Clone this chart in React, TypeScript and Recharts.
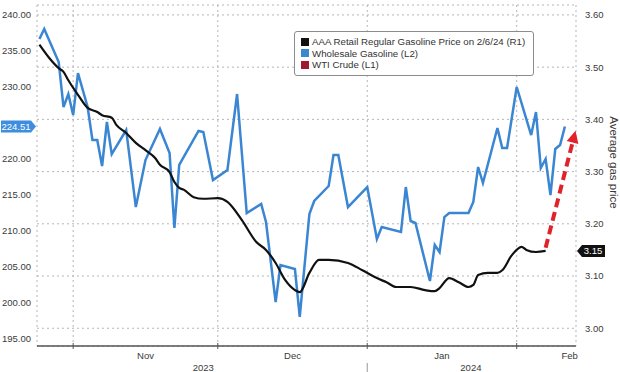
import React from "react";
import {
  LineChart,
  Line,
  XAxis,
  YAxis,
  CartesianGrid,
  Legend,
  ReferenceLine,
} from "recharts";

// x = days counted from Oct 24, 2023 (Nov 1 = 8, Dec 1 = 38, Jan 1 = 69, Feb 1 = 100)
const wholesaleDays = [
  1, 2, 5, 6, 7, 8, 9, 11, 12, 13, 14, 15, 16, 19, 21, 23, 26, 28, 29, 30, 34, 35,
  37, 40, 42, 44, 47, 48, 50, 51, 54, 55, 57, 58, 61, 62, 63, 65, 69, 71, 72, 76,
  77, 78, 79, 82, 83, 84, 85, 86, 90, 91, 92, 93, 96, 97, 98, 100, 103, 104, 105,
  106, 107, 108, 109, 110,
];
const wholesaleValues = [
  236.67, 238.06, 233.47, 227.22, 229.03, 226.11, 231.94, 227.22, 222.64, 222.64,
  219.03, 225.14, 220.69, 224.03, 213.33, 219.86, 224.17, 220.83, 210.42, 219.17,
  223.89, 223.75, 217.08, 218.47, 229.03, 212.5, 213.75, 211.25, 200.14, 205.28,
  204.72, 198.06, 212.36, 214.17, 216.25, 220.56, 220.56, 213.33, 216.11, 208.89,
  210.56, 209.86, 216.11, 211.39, 211.11, 203.06, 208.06, 207.08, 211.94, 212.5,
  212.5, 214.03, 218.89, 216.67, 224.31, 221.53, 221.53, 230.0, 223.33, 226.53,
  218.75, 220.0, 215.0, 221.39, 221.94, 224.51,
];

const retailDays = [
  1, 3, 5, 6, 7, 9, 11, 13, 14, 16, 17, 19, 21, 23, 25, 26, 28, 29, 30, 31, 33, 35,
  38, 40, 43, 46, 48, 50, 52, 54, 55, 57, 59, 61, 65, 68, 71, 73, 75, 78, 81, 83,
  84, 86, 88, 90, 91, 92, 94, 96, 97, 99, 101, 102, 104, 106,
];
const retailValues = [
  3.543, 3.518, 3.498, 3.491, 3.475, 3.447, 3.422, 3.414, 3.408, 3.403, 3.389,
  3.374, 3.355, 3.341, 3.326, 3.313, 3.299, 3.28, 3.269, 3.265, 3.251, 3.248,
  3.249, 3.242, 3.207, 3.165, 3.15, 3.125, 3.092, 3.073, 3.069, 3.106, 3.131,
  3.131, 3.125, 3.111, 3.096, 3.088, 3.079, 3.079, 3.073, 3.071, 3.077, 3.096,
  3.088, 3.079, 3.083, 3.102, 3.106, 3.106, 3.111, 3.14, 3.156, 3.15, 3.146, 3.148,
];

const monthStarts = [8, 38, 69, 100];
const monthCenters = [23, 53.5, 84.5, 111];
const monthLabels = ["Nov", "Dec", "Jan", "Feb"];
const yearCenters = [35, 69, 90.5];
const yearLabels = ["2023", "", "2024"];

// 225.00 is covered by the last-value tag, so it is not listed
const leftTicks = [195, 200, 205, 210, 215, 220, 230, 235, 240];
const rightTicks = [3.0, 3.1, 3.2, 3.3, 3.4, 3.5, 3.6];

const legendLabels = [
  "AAA Retail Regular Gasoline Price on 2/6/24 (R1)",
  "Wholesale Gasoline (L2)",
  "WTI Crude (L1)",
];

// arrow drawn after the retail line: from last retail point up toward the right axis
const arrowStart = { x: 106, y: 3.154 };
const arrowEnd = { x: 112.2, y: 3.378 };

const wholesaleData = wholesaleDays.map((d, i) => ({ day: d, value: wholesaleValues[i] }));
const retailData = retailDays.map((d, i) => ({ day: d, value: retailValues[i] }));

const BLUE = "#3b86d3";
const BLACK = "#111111";
const RED = "#a0172e";
const FONT = '"Liberation Sans", Arial, sans-serif';
const TEXT = "#3a3a3a";

const legendColors = [BLACK, BLUE, RED];

const LegendBox = () => (
  <div
    style={{
      border: "1px solid #8c8c8c",
      borderRadius: 3,
      background: "#fff",
      padding: "4px 8px 4px 6px",
      fontFamily: FONT,
      fontSize: 9.7,
      lineHeight: "11.5px",
      color: "#333",
      whiteSpace: "nowrap",
    }}
  >
    {legendLabels.map((l, i) => (
      <div key={l} style={{ display: "flex", alignItems: "center" }}>
        <span
          style={{
            display: "inline-block",
            width: 8,
            height: 8,
            background: legendColors[i],
            marginRight: 3,
          }}
        />
        {l}
      </div>
    ))}
  </div>
);

const BoundTick = (props: any) => {
  const { x, y } = props;
  return <line x1={x} x2={x} y1={y - 3} y2={y + 3} stroke="#555" strokeWidth={1} />;
};

const MonthTick = (props: any) => {
  const { x, y, index } = props;
  return (
    <text x={x} y={y + 9} textAnchor="middle" fontSize={9.5} fontFamily={FONT} fill={TEXT}>
      {monthLabels[index]}
    </text>
  );
};

const YearTick = (props: any) => {
  const { x, y, index } = props;
  if (!yearLabels[index]) {
    return <line x1={x} x2={x} y1={y + 2} y2={y + 12} stroke="#999" strokeWidth={1} />;
  }
  return (
    <text x={x} y={y + 10} textAnchor="middle" fontSize={9.5} fontFamily={FONT} fill={TEXT}>
      {yearLabels[index]}
    </text>
  );
};

const LeftTag = (props: any) => {
  const { viewBox } = props;
  const y = viewBox.y;
  const r = viewBox.x - 1;
  return (
    <g>
      <polygon
        points={`${r - 35},${y - 6} ${r - 5},${y - 6} ${r},${y} ${r - 5},${y + 6} ${r - 35},${y + 6}`}
        fill="#3d8ede"
      />
      <text x={r - 20} y={y + 3.5} textAnchor="middle" fontSize={9.5} fontFamily={FONT} fill="#fff">
        {wholesaleValues[wholesaleValues.length - 1].toFixed(2)}
      </text>
    </g>
  );
};

const RightTag = (props: any) => {
  const { viewBox } = props;
  const y = viewBox.y;
  const l = viewBox.x + viewBox.width + 1;
  return (
    <g>
      <polygon
        points={`${l},${y} ${l + 5},${y - 6} ${l + 28},${y - 6} ${l + 28},${y + 6} ${l + 5},${y + 6}`}
        fill="#111"
      />
      <text x={l + 16} y={y + 3.5} textAnchor="middle" fontSize={9.5} fontFamily={FONT} fill="#fff">
        {retailValues[retailValues.length - 1].toFixed(2)}
      </text>
    </g>
  );
};

const RightTitle = (props: any) => {
  const { viewBox } = props;
  const cx = viewBox.x + 34;
  const cy = viewBox.y + viewBox.height / 2 - 13;
  return (
    <text
      x={cx}
      y={cy}
      transform={`rotate(90 ${cx} ${cy})`}
      textAnchor="middle"
      fontSize={11.5}
      fontFamily={FONT}
      fill={TEXT}
    >
      Average gas price
    </text>
  );
};

const Arrow = (p: any) => {
  const { x1, y1, x2, y2 } = p;
  const dx = x2 - x1;
  const dy = y2 - y1;
  const len = Math.hypot(dx, dy) || 1;
  const ux = dx / len;
  const uy = dy / len;
  const head = 12;
  const half = 6;
  const bx = x2 - ux * head;
  const by = y2 - uy * head;
  return (
    <g>
      <line x1={x1} y1={y1} x2={bx} y2={by} stroke="#e0232b" strokeWidth={4} strokeDasharray="9 5" />
      <polygon
        points={`${x2},${y2} ${bx - uy * half},${by + ux * half} ${bx + uy * half},${by - ux * half}`}
        fill="#e0232b"
      />
    </g>
  );
};

export default function App() {
  return (
    <div style={{ position: "absolute", left: 0, top: 0, background: "#fff" }}>
      <LineChart
        width={620}
        height={372}
        margin={{ top: 5, right: 0, bottom: 0, left: 0 }}
        style={{ fontFamily: FONT }}
      >
        <CartesianGrid stroke="#b5b5b5" strokeDasharray="2 3" xAxisId={0} yAxisId="right" />
        <XAxis
          xAxisId={0}
          dataKey="day"
          type="number"
          domain={[0.5, 112.3]}
          allowDataOverflow
          ticks={monthStarts}
          tick={<BoundTick />}
          tickLine={false}
          tickSize={0}
          tickMargin={0}
          height={4}
          axisLine={{ stroke: "#555", strokeWidth: 1.5 }}
        />
        <XAxis
          xAxisId="months"
          dataKey="day"
          type="number"
          domain={[0.5, 112.3]}
          allowDataOverflow
          ticks={monthCenters}
          tick={<MonthTick />}
          tickLine={false}
          tickSize={0}
          tickMargin={0}
          height={11}
          axisLine={false}
        />
        <XAxis
          xAxisId="years"
          dataKey="day"
          type="number"
          domain={[0.5, 112.3]}
          allowDataOverflow
          ticks={yearCenters}
          tick={<YearTick />}
          tickLine={false}
          tickSize={0}
          tickMargin={0}
          height={11}
          axisLine={false}
        />
        <YAxis
          yAxisId="left"
          orientation="left"
          width={37}
          domain={[194.03, 241.39]}
          allowDataOverflow
          ticks={leftTicks}
          tickFormatter={(v: number) => v.toFixed(2)}
          tick={{ fontSize: 9.5, fill: TEXT, fontFamily: FONT }}
          tickLine={false}
          tickSize={0}
          tickMargin={6}
          axisLine={false}
        />
        <YAxis
          yAxisId="right"
          orientation="right"
          width={44}
          domain={[2.966, 3.619]}
          allowDataOverflow
          ticks={rightTicks}
          tickFormatter={(v: number) => v.toFixed(2)}
          tick={{ fontSize: 9.5, fill: TEXT, fontFamily: FONT }}
          tickLine={false}
          tickSize={0}
          tickMargin={9}
          axisLine={false}
          label={<RightTitle />}
        />
        <Line
          data={wholesaleData}
          dataKey="value"
          yAxisId="left"
          type="linear"
          stroke={BLUE}
          strokeWidth={2.5}
          dot={false}
          isAnimationActive={false}
        />
        <Line
          data={retailData}
          dataKey="value"
          yAxisId="right"
          type="monotone"
          stroke={BLACK}
          strokeWidth={2.2}
          dot={false}
          isAnimationActive={false}
        />
        <ReferenceLine
          yAxisId="left"
          y={wholesaleValues[wholesaleValues.length - 1]}
          stroke="none"
          label={<LeftTag />}
        />
        <ReferenceLine
          yAxisId="right"
          y={retailValues[retailValues.length - 1]}
          stroke="none"
          label={<RightTag />}
        />
        <ReferenceLine
          yAxisId="right"
          segment={[arrowStart, arrowEnd]}
          ifOverflow="visible"
          shape={<Arrow />}
        />
        <Legend
          content={<LegendBox />}
          layout="horizontal"
          verticalAlign="middle"
          align="center"
          wrapperStyle={{ left: 294, top: 31, width: "auto" }}
        />
      </LineChart>
    </div>
  );
}
